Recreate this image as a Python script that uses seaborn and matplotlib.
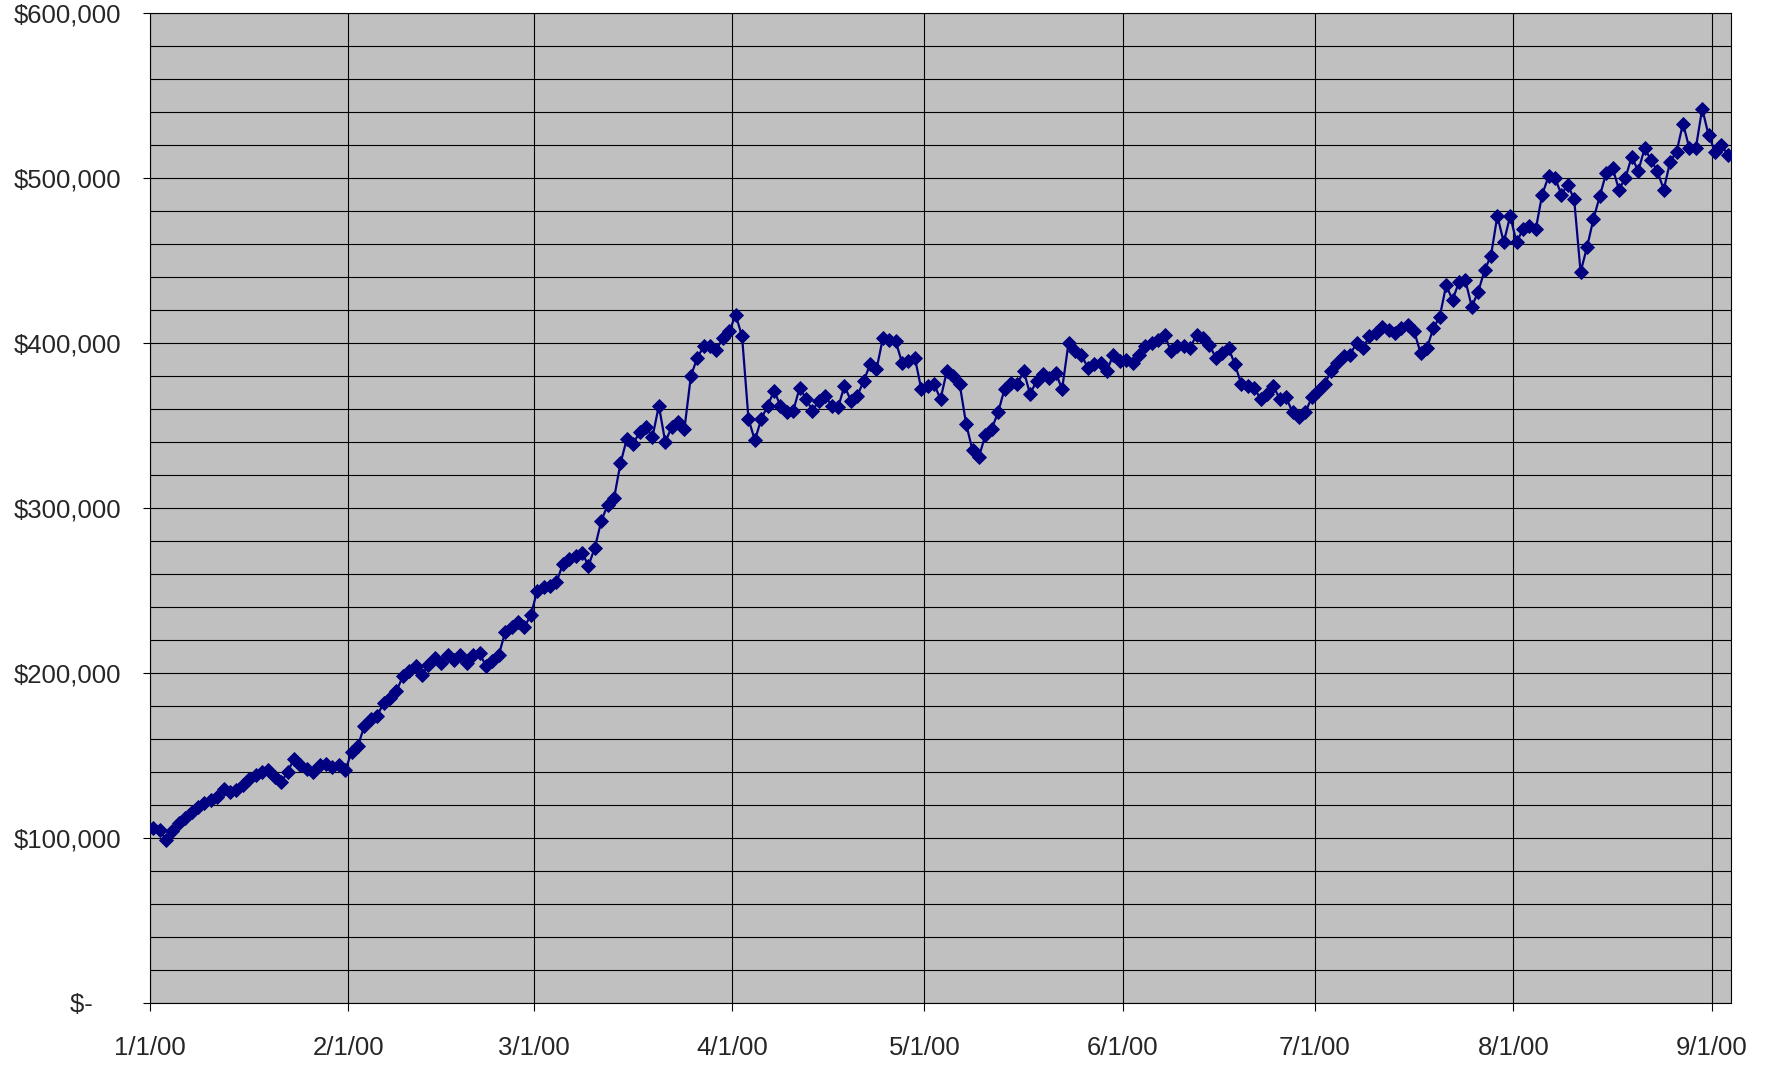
import numpy as np
import pandas as pd
import matplotlib
matplotlib.use("Agg")
import matplotlib.pyplot as plt
import matplotlib.dates as mdates
from matplotlib.ticker import FuncFormatter, MultipleLocator
import seaborn as sns

# Daily account balance, in thousands of dollars, one list per month of 2000
jan_balance = [106, 105, 99, 104, 109, 112, 116, 119, 121, 123, 125, 130, 128, 129, 132, 136,
               138, 140, 141, 137, 134, 140, 148, 144, 142, 140, 144, 145, 143, 144, 141]
feb_balance = [152, 156, 168, 172, 174, 182, 185, 189, 198, 201, 204, 199, 205, 209, 206, 211,
               208, 211, 206, 211, 212, 204, 207, 211, 225, 228, 231, 228, 235]
mar_balance = [250, 252, 253, 255, 266, 269, 271, 273, 265, 276, 292, 302, 306, 327, 342, 339,
               346, 349, 343, 362, 340, 349, 352, 348, 380, 391, 398, 398, 396, 403, 407]
apr_balance = [417, 404, 354, 341, 354, 362, 371, 362, 358, 359, 373, 366, 359, 365, 368, 362,
               361, 374, 365, 368, 377, 387, 384, 403, 402, 401, 388, 389, 391, 372]
may_balance = [374, 375, 366, 383, 380, 375, 351, 335, 331, 344, 348, 358, 372, 376, 375, 383,
               369, 377, 381, 379, 382, 372, 400, 395, 393, 385, 387, 388, 383, 393, 389]
jun_balance = [390, 388, 393, 398, 400, 402, 405, 395, 398, 398, 397, 405, 403, 399, 391, 394,
               397, 387, 375, 374, 373, 366, 369, 374, 366, 367, 358, 355, 358, 367]
jul_balance = [371, 375, 383, 388, 392, 393, 400, 397, 404, 406, 410, 408, 406, 409, 411, 407,
               394, 397, 409, 416, 435, 426, 437, 438, 422, 431, 444, 453, 477, 461, 477]
aug_balance = [461, 469, 471, 469, 490, 501, 500, 490, 496, 487, 443, 458, 475, 489, 503, 506,
               493, 500, 513, 504, 518, 511, 504, 493, 510, 516, 533, 518, 518, 542, 526]
sep_balance = [516, 520, 514]

month_ticks = ["2000-01-01", "2000-02-01", "2000-03-01", "2000-04-01", "2000-05-01",
               "2000-06-01", "2000-07-01", "2000-08-01", "2000-09-01"]
x_start, x_end = "2000-01-01", "2000-09-04"
y_max = 600_000

balance = np.concatenate([jan_balance, feb_balance, mar_balance, apr_balance, may_balance,
                          jun_balance, jul_balance, aug_balance, sep_balance]) * 1000
# each daily value sits in the middle of its day on the date axis
dates = pd.date_range("2000-01-01", periods=len(balance), freq="D") + pd.Timedelta(hours=12)
df = pd.DataFrame({"date": dates, "balance": balance})

sns.set_style("white")
plt.rcParams["font.family"] = ["Liberation Sans", "DejaVu Sans"]

fig = plt.figure(figsize=(17.8, 10.67), dpi=100)
ax = fig.add_axes([150 / 1780, 1 - 1003 / 1067, (1731 - 150) / 1780, (1003 - 13) / 1067])
ax.set_facecolor("#C0C0C0")

sns.lineplot(data=df, x="date", y="balance", ax=ax, color="#000080", linewidth=1.6,
             marker="D", markersize=7.3, markeredgecolor="#000080", markeredgewidth=0.6,
             zorder=3)

ax.set_xlim(pd.Timestamp(x_start), pd.Timestamp(x_end))
ax.set_ylim(0, y_max)

ax.set_xticks(pd.to_datetime(month_ticks))
ax.xaxis.set_major_formatter(FuncFormatter(
    lambda v, pos: f"{mdates.num2date(v).month}/{mdates.num2date(v).day}/00"))

ax.yaxis.set_major_locator(MultipleLocator(100_000))
ax.yaxis.set_minor_locator(MultipleLocator(20_000))


def dollars(v, pos):
    # accounting style: zero shows as a dash, padded like the currency column
    if abs(v) < 1:
        return "$-    "
    return f"${v:,.0f}"


ax.yaxis.set_major_formatter(FuncFormatter(dollars))

ax.grid(which="major", axis="both", color="black", linewidth=0.8)
ax.grid(which="minor", axis="y", color="black", linewidth=0.8)
ax.set_axisbelow(True)

ax.tick_params(axis="y", which="major", direction="out", length=5, width=0.8,
               color="black", pad=16, labelsize=18.5, left=True)
ax.tick_params(axis="y", which="minor", length=0, left=False)
ax.tick_params(axis="x", which="major", direction="out", length=6, width=0.8,
               color="black", pad=18, labelsize=18.5, bottom=True)

for side in ["left", "bottom", "top", "right"]:
    ax.spines[side].set_visible(True)
    ax.spines[side].set_color("black")
    ax.spines[side].set_linewidth(0.8)

ax.set_xlabel("")
ax.set_ylabel("")
if ax.get_legend() is not None:
    ax.get_legend().remove()

fig.savefig("out.png", dpi=100, facecolor="white")
